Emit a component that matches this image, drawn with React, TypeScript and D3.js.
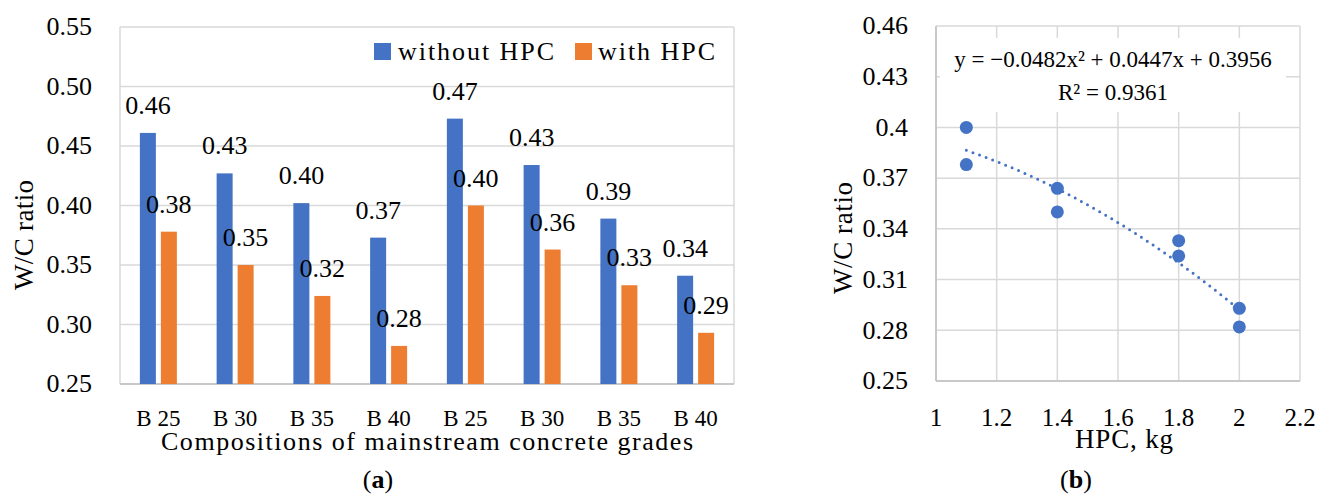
import React from 'react';
import * as d3 from 'd3';

// chart (a): W/C ratio per concrete grade
const categories = ['B 25', 'B 30', 'B 35', 'B 40', 'B 25', 'B 30', 'B 35', 'B 40'];
const seriesNames = ['without HPC', 'with HPC'];
const withoutHPC = [0.461, 0.427, 0.402, 0.373, 0.473, 0.434, 0.389, 0.341];
const withHPC = [0.378, 0.350, 0.324, 0.282, 0.400, 0.363, 0.333, 0.293];
const barTicks = [0.25, 0.30, 0.35, 0.40, 0.45, 0.50, 0.55];

// chart (b): W/C ratio vs HPC dose
const hpcKg = [1.1, 1.1, 1.4, 1.4, 1.8, 1.8, 2.0, 2.0];
const wcRatio = [0.400, 0.378, 0.364, 0.350, 0.333, 0.324, 0.293, 0.282];
const trendCoeffs = [-0.0482, 0.0447, 0.3956];
const scatterXTicks = [1, 1.2, 1.4, 1.6, 1.8, 2, 2.2];
const scatterYTicks = [0.25, 0.28, 0.31, 0.34, 0.37, 0.40, 0.43, 0.46];

const BLUE = '#4472C4';
const ORANGE = '#ED7D31';
const GRID = '#D9D9D9';
const AXIS = '#BFBFBF';
const FONT = "'Liberation Serif', 'DejaVu Serif', serif";

function BarChart() {
  const left = 120, right = 734, top = 27, bottom = 384;
  const x = d3.scaleBand<number>().domain(d3.range(categories.length)).range([left, right]);
  const sub = d3.scaleBand<string>().domain(seriesNames).range([0, 37]).paddingInner(0.238);
  const y = d3.scaleLinear().domain([0.25, 0.55]).range([bottom, top]);
  const series = [withoutHPC, withHPC];
  const colors = [BLUE, ORANGE];
  const off = (x.bandwidth() - 37) / 2;

  return (
    <g>
      {barTicks.map((t) => (
        <line key={t} x1={left} x2={right} y1={y(t)} y2={y(t)} stroke={GRID} strokeWidth={1.5} />
      ))}
      <line x1={left} x2={left} y1={top} y2={bottom} stroke={GRID} strokeWidth={1.5} />
      <line x1={right} x2={right} y1={top} y2={bottom} stroke={GRID} strokeWidth={1.5} />
      <line x1={left} x2={right} y1={bottom} y2={bottom} stroke={AXIS} strokeWidth={1.5} />
      {barTicks.map((t) => (
        <text key={t} x={92} y={y(t)} dy="0.32em" textAnchor="end" fontSize={26}>
          {t.toFixed(2)}
        </text>
      ))}
      {series.map((vals, s) =>
        vals.map((v, i) => (
          <rect
            key={`${s}-${i}`}
            x={(x(i) as number) + off + (sub(seriesNames[s]) as number)}
            y={y(v)}
            width={sub.bandwidth()}
            height={y(0.25) - y(v)}
            fill={colors[s]}
          />
        ))
      )}
      {series.map((vals, s) =>
        vals.map((v, i) => (
          <text
            key={`l${s}-${i}`}
            x={(x(i) as number) + off + (sub(seriesNames[s]) as number) + sub.bandwidth() / 2}
            y={y(v) - 19}
            textAnchor="middle"
            fontSize={26}
          >
            {v.toFixed(2)}
          </text>
        ))
      )}
      {categories.map((c, i) => (
        <text key={i} x={(x(i) as number) + x.bandwidth() / 2} y={426} textAnchor="middle" fontSize={23}>
          {c}
        </text>
      ))}
      {/* legend */}
      <rect x={374} y={43} width={17} height={17} fill={BLUE} />
      <text x={398} y={60} fontSize={26} textLength={156} lengthAdjust="spacing">{seriesNames[0]}</text>
      <rect x={575} y={43} width={17} height={17} fill={ORANGE} />
      <text x={598} y={60} fontSize={26} textLength={117} lengthAdjust="spacing">{seriesNames[1]}</text>
      <text transform={`translate(33,235) rotate(-90)`} textAnchor="middle" fontSize={27} textLength={110} lengthAdjust="spacing">
        W/C ratio
      </text>
      <text x={427} y={450} textAnchor="middle" fontSize={26} textLength={532} lengthAdjust="spacing">
        Compositions of mainstream concrete grades
      </text>
      <text x={378} y={488} textAnchor="middle" fontSize={26}>
        (<tspan fontWeight="bold">a</tspan>)
      </text>
    </g>
  );
}

function ScatterChart() {
  const left = 936, right = 1300, top = 26, bottom = 381;
  const x = d3.scaleLinear().domain([1, 2.2]).range([left, right]);
  const y = d3.scaleLinear().domain([0.25, 0.46]).range([bottom, top]);
  const [a, b, c] = trendCoeffs;
  const trendX = d3.range(1.1, 2.0001, 0.01);
  const line = d3
    .line<number>()
    .x((d) => x(d))
    .y((d) => y(a * d * d + b * d + c));

  return (
    <g>
      {scatterYTicks.map((t) => (
        <line key={t} x1={left} x2={right} y1={y(t)} y2={y(t)} stroke={GRID} strokeWidth={1.5} />
      ))}
      {scatterXTicks.map((t) => (
        <line key={t} x1={x(t)} x2={x(t)} y1={top} y2={bottom} stroke={GRID} strokeWidth={1.5} />
      ))}
      <line x1={left} x2={right} y1={bottom} y2={bottom} stroke={AXIS} strokeWidth={1.5} />
      <line x1={left} x2={left} y1={top} y2={bottom} stroke={AXIS} strokeWidth={1.5} />
      {scatterYTicks.map((t) => (
        <text key={t} x={908} y={y(t)} dy="0.32em" textAnchor="end" fontSize={26}>
          {String(+t.toFixed(2))}
        </text>
      ))}
      {scatterXTicks.map((t) => (
        <text key={t} x={x(t)} y={426} textAnchor="middle" fontSize={25}>
          {String(+t.toFixed(1))}
        </text>
      ))}
      <path
        d={line(trendX) || ''}
        fill="none"
        stroke={BLUE}
        strokeWidth={3}
        strokeDasharray="0 7"
        strokeLinecap="round"
      />
      {hpcKg.map((h, i) => (
        <circle key={i} cx={x(h)} cy={y(wcRatio[i])} r={6.5} fill={BLUE} />
      ))}
      <rect x={940} y={38} width={346} height={74} fill="#fff" />
      <text x={1113} y={67} textAnchor="middle" fontSize={23}>
        y = −0.0482x² + 0.0447x + 0.3956
      </text>
      <text x={1113} y={100} textAnchor="middle" fontSize={23}>
        R² = 0.9361
      </text>
      <text transform={`translate(852,238) rotate(-90)`} textAnchor="middle" fontSize={27} textLength={112} lengthAdjust="spacing">
        W/C ratio
      </text>
      <text x={1124} y={448} textAnchor="middle" fontSize={27} textLength={98} lengthAdjust="spacing">
        HPC, kg
      </text>
      <text x={1076} y={488} textAnchor="middle" fontSize={26}>
        (<tspan fontWeight="bold">b</tspan>)
      </text>
    </g>
  );
}

export default function App() {
  return (
    <svg
      width={1330}
      height={496}
      style={{ position: 'absolute', left: 0, top: 0, background: '#fff', fontFamily: FONT }}
      fill="#000"
    >
      <rect width={1330} height={496} fill="#fff" />
      <BarChart />
      <ScatterChart />
    </svg>
  );
}
